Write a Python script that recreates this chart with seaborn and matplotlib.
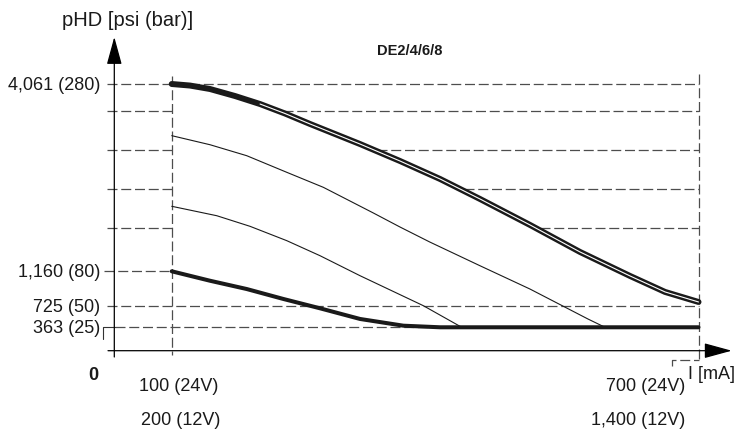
import matplotlib
matplotlib.use('Agg')
import matplotlib.pyplot as plt
import numpy as np
import pandas as pd
import seaborn as sns

# pressure levels (bar) with their labels
nivel_bar = [280, 240, 200, 160, 120, 80, 50, 25]
rotulo_nivel = ['4,061 (280)', '', '', '', '', '1,160 (80)', '725 (50)', '363 (25)']

# curves: current (mA) -> pressure (bar)
topo_x = [100, 120.8, 143.6, 172.1, 200.6, 229.1, 257.5, 314.5, 360, 405.6, 451.2, 508.1,
          565, 622, 661.9, 700]
topo_y = [280, 277.7, 272.5, 262, 250, 237.1, 226.4, 205.8, 188.5, 170.2, 149.8, 123.4,
          98, 76, 62.3, 53.7]

fina1_x = [100, 143.6, 185.4, 231, 272.7, 329.6, 360, 394, 451, 508, 574, 593.5]
fina1_y = [214.4, 205.1, 193.9, 177, 161.7, 135.6, 121.3, 107.2, 85.2, 64.8, 34.9, 25]

fina2_x = [100, 151.3, 189.2, 231, 268.9, 314.5, 386.6, 430.3]
fina2_y = [142.4, 132.8, 122, 108.5, 94.5, 76.2, 50.5, 25]

base_x = [100, 143.6, 185.4, 227, 268.9, 314.5, 363.8, 405.6, 700]
base_y = [80, 71.9, 64.8, 56.3, 47.6, 34.9, 26.9, 25, 25]

# the drawing is schematic: the bar axis is not linear
escala_bar = [-100, 0, 25, 50, 80, 120, 160, 200, 240, 280, 420]
escala_px = [-93.6, 0, 23.4, 44.4, 79.4, 122.4, 161.7, 201, 240, 266.7, 360.2]


def ida(v):
    return np.interp(v, escala_bar, escala_px)


def volta(v):
    return np.interp(v, escala_px, escala_bar)


sns.set_theme(style='white')
plt.rcParams['font.family'] = ['Liberation Sans', 'DejaVu Sans']

fig = plt.figure(figsize=(7.36, 4.39), dpi=100)
ax = fig.add_axes([0, 0, 1, 1])
ax.set_yscale('function', functions=(ida, volta))
ax.set_xlim(-95.6, 742.7)
ax.set_ylim(-93.3, 407.3)
ax.axis('off')

tracejado = dict(color='#4d4d4d', lw=0.9, ls=(0, (8, 3)), zorder=1)

# dashed reference lines
x_ini = 26.3
for nivel in nivel_bar:
    if nivel in (280, 50):
        ax.plot([x_ini, 700], [nivel, nivel], **tracejado)
    elif nivel == 25:
        ax.plot([35, base_x[-2]], [nivel, nivel], **tracejado)
    elif nivel == 80:
        ax.plot([23, 100], [nivel, nivel], **tracejado)
    else:
        ax.plot([x_ini, 100], [nivel, nivel], **tracejado)
        cruza = np.interp(nivel, topo_y[::-1], topo_x[::-1])
        ax.plot([cruza + 4, 700], [nivel, nivel], **tracejado)

ax.plot([100, 100], [292, -4.6], **tracejado)
ax.plot([700, 700], [295, -9.6], **tracejado)
ax.plot([669.8, 669.8, 700], [-16, -9.6, -9.6], **tracejado)

# small bracket at the 25 bar label
ax.plot([21.7, 21.7, 35], [12.5, 25, 25], color='#333333', lw=0.8)

# curves
sns.lineplot(x=topo_x, y=topo_y, color='#1a1a1a', lw=4.3, ax=ax, zorder=3)
meio = pd.DataFrame({'x': topo_x, 'y': topo_y})
meio = meio[meio['x'] >= 200]
sns.lineplot(data=meio, x='x', y='y', color='white', lw=0.8, ax=ax, zorder=4)
sns.lineplot(x=fina1_x, y=fina1_y, color='#1a1a1a', lw=0.8, ax=ax, zorder=3)
sns.lineplot(x=fina2_x, y=fina2_y, color='#1a1a1a', lw=0.8, ax=ax, zorder=3)
sns.lineplot(x=base_x, y=base_y, color='#1a1a1a', lw=2.9, ax=ax, zorder=3)

# axes with arrows (figure pixels)
seta = dict(arrowstyle='-|>,head_length=0.86,head_width=0.235', mutation_scale=20,
            color='black', lw=0.9, shrinkA=0, shrinkB=0)
ax.annotate('', xy=(114.3, 439 - 38), xytext=(114.3, 439 - 358),
            xycoords='figure pixels', textcoords='figure pixels', arrowprops=seta)
ax.annotate('', xy=(731.7, 439 - 351.7), xytext=(108, 439 - 351.7),
            xycoords='figure pixels', textcoords='figure pixels', arrowprops=seta)

# labels
for nivel, rotulo in zip(nivel_bar, rotulo_nivel):
    if rotulo:
        ax.text(18.3, nivel, rotulo, ha='right', va='center', fontsize=13, color='#1a1a1a')

def px(x, y):
    return x / 736, 1 - y / 439

ax.text(*px(128, 21), 'pHD [psi (bar)]', transform=ax.transAxes, ha='center', va='center',
        fontsize=14.5, color='#1a1a1a')
ax.text(*px(410, 51.5), 'DE2/4/6/8', transform=ax.transAxes, ha='center', va='center',
        fontsize=10.5, fontweight='bold', color='#1a1a1a')
ax.text(*px(93, 376), '0', transform=ax.transAxes, ha='center', va='center',
        fontsize=13, fontweight='bold', color='#1a1a1a')
ax.text(*px(179, 387), '100 (24V)', transform=ax.transAxes, ha='center', va='center',
        fontsize=13, color='#1a1a1a')
ax.text(*px(181, 421), '200 (12V)', transform=ax.transAxes, ha='center', va='center',
        fontsize=13, color='#1a1a1a')
ax.text(*px(685, 387), '700 (24V)', transform=ax.transAxes, ha='right', va='center',
        fontsize=13, color='#1a1a1a')
ax.text(*px(685, 421), '1,400 (12V)', transform=ax.transAxes, ha='right', va='center',
        fontsize=13, color='#1a1a1a')
ax.text(*px(688, 375), 'I [mA]', transform=ax.transAxes, ha='left', va='center',
        fontsize=13, color='#1a1a1a')

fig.savefig('out.png', dpi=100)
